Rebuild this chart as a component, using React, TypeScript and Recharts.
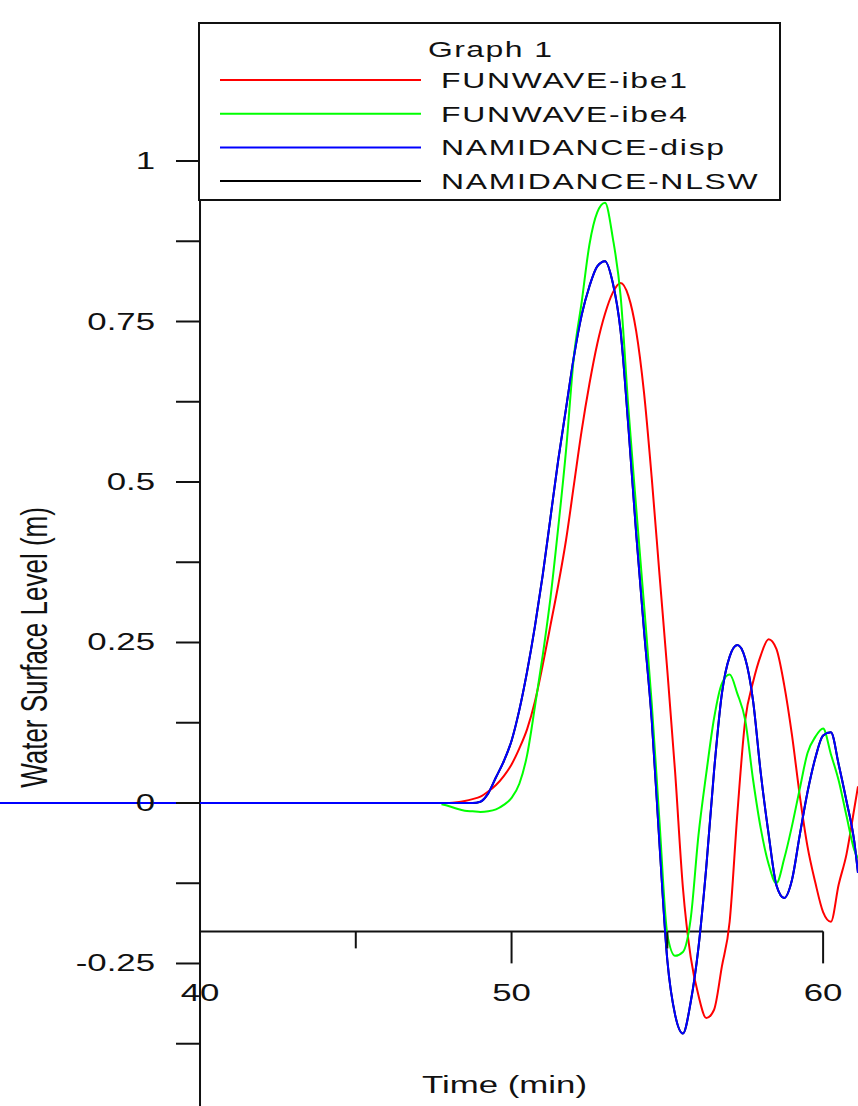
import {
  LineChart,
  Line,
  XAxis,
  YAxis,
  ReferenceLine,
  ReferenceDot,
  Legend,
} from "recharts";

const FONT = '"Liberation Sans", Arial, Helvetica, sans-serif';
const INK = "#111";
// the source figure is stretched sideways, text included
const STRETCH = 1.45;

const minutes = [
  33.58, 47.5, 47.75, 48, 48.25, 48.5, 48.75, 49, 49.25, 49.5, 49.75, 50,
  50.25, 50.5, 50.75, 51, 51.25, 51.5, 51.75, 52, 52.25, 52.5, 52.75, 53,
  53.25, 53.5, 53.75, 54, 54.25, 54.5, 54.75, 55, 55.25, 55.5, 55.75, 56,
  56.25, 56.5, 56.75, 57, 57.25, 57.5, 57.75, 58, 58.25, 58.5, 58.75, 59,
  59.25, 59.5, 59.75, 60, 60.25, 60.5, 60.75, 61, 61.12,
];

const ibe1Level = [
  null, null, 0, 0, 0.001, 0.003, 0.006, 0.01, 0.018, 0.028, 0.042, 0.06,
  0.085, 0.115, 0.158, 0.215, 0.277, 0.34, 0.41, 0.495, 0.58, 0.653, 0.715,
  0.762, 0.795, 0.81, 0.79, 0.735, 0.64, 0.506, 0.355, 0.206, 0.048, -0.132,
  -0.24, -0.3, -0.335, -0.322, -0.255, -0.185, -0.015, 0.129, 0.188, 0.23,
  0.255, 0.24, 0.184, 0.106, 0.012, -0.068, -0.124, -0.17, -0.185, -0.127,
  -0.08, -0.009, 0.026,
];

const ibe4Level = [
  null, null, -0.002, -0.005, -0.009, -0.012, -0.013, -0.014, -0.013, -0.01,
  -0.003, 0.008, 0.03, 0.075, 0.15, 0.23, 0.32, 0.43, 0.55, 0.695, 0.78, 0.87,
  0.92, 0.935, 0.88, 0.79, 0.615, 0.46, 0.31, 0.155, -0.03, -0.205, -0.238,
  -0.232, -0.18, -0.05, 0.046, 0.132, 0.186, 0.2, 0.17, 0.129, 0.037, -0.04,
  -0.095, -0.125, -0.087, -0.036, 0.022, 0.078, 0.103, 0.116, 0.076, 0.035,
  -0.02, -0.073, -0.086,
];

const dispLevel = [
  0, 0, 0, 0, 0, 0, 0, 0.002, 0.015, 0.04, 0.065, 0.097, 0.145, 0.205, 0.275,
  0.355, 0.445, 0.535, 0.615, 0.695, 0.76, 0.805, 0.836, 0.844, 0.81, 0.735,
  0.586, 0.42, 0.27, 0.129, -0.065, -0.245, -0.33, -0.359, -0.31, -0.225,
  -0.1, 0.05, 0.17, 0.228, 0.246, 0.225, 0.16, 0.046, -0.048, -0.128, -0.148,
  -0.12, -0.05, 0.017, 0.07, 0.105, 0.11, 0.06, 0.003, -0.06, -0.109,
];

// NLSW never shows in the figure, it lies right under the disp curve
const nlswLevel = dispLevel;

const seriesKeys = ["ibe1", "ibe4", "disp", "nlsw"];
const seriesNames = [
  "FUNWAVE-ibe1",
  "FUNWAVE-ibe4",
  "NAMIDANCE-disp",
  "NAMIDANCE-NLSW",
];
const seriesColors = ["#ff0000", "#00ff00", "#0000ff", "#000000"];

const yTicks = [-0.375, -0.25, -0.125, 0, 0.125, 0.25, 0.375, 0.5, 0.625, 0.75, 0.875, 1];
const yLabelled = [-0.25, 0, 0.25, 0.5, 0.75, 1];
const xMajor = [40, 50, 60];
const xMinor = [45, 55];

const X_DOMAIN: [number, number] = [33.58, 61.12];
const Y_DOMAIN: [number, number] = [-0.472, 1.2508];

const data = minutes.map((t, i) => ({
  t,
  ibe1: ibe1Level[i],
  ibe4: ibe4Level[i],
  disp: dispLevel[i],
  nlsw: nlswLevel[i],
}));

const Txt = ({
  x,
  y,
  size = 24,
  anchor = "middle",
  rotate = false,
  spacing = 0,
  children,
}: any) => (
  <text
    transform={`translate(${x},${y}) scale(${STRETCH},1)${rotate ? " rotate(-90)" : ""}`}
    fontSize={size}
    fontFamily={FONT}
    fill={INK}
    textAnchor={anchor}
    letterSpacing={spacing}
  >
    {children}
  </text>
);

const yTickShape = (v: number) => (p: any) => (
  <g>
    <line x1={p.cx - 24} y1={p.cy} x2={p.cx} y2={p.cy} stroke={INK} strokeWidth={2} />
    {yLabelled.includes(v) && (
      <Txt x={p.cx - 45} y={p.cy + 8} anchor="end">
        {String(v)}
      </Txt>
    )}
  </g>
);

const xTickShape = (v: number, major: boolean) => (p: any) => (
  <g>
    <line
      x1={p.cx}
      y1={p.cy}
      x2={p.cx}
      y2={p.cy + (major ? 32 : 17)}
      stroke={INK}
      strokeWidth={2}
    />
    {major && (
      <Txt x={p.cx} y={p.cy + 70}>
        {String(v)}
      </Txt>
    )}
  </g>
);

const LegendBox = () => (
  <svg width={583} height={179} style={{ display: "block" }}>
    <rect x={1} y={1} width={581} height={177} fill="#fff" stroke={INK} strokeWidth={2} />
    <Txt x={230} y={35} size={22} anchor="start" spacing={1}>
      Graph 1
    </Txt>
    {seriesNames.map((name, i) => {
      const y = 58 + i * 33.7;
      return (
        <g key={name}>
          <line x1={22} x2={223} y1={y} y2={y} stroke={seriesColors[i]} strokeWidth={2} />
          <Txt x={243} y={y + 8} size={22} anchor="start" spacing={1.2}>
            {name}
          </Txt>
        </g>
      );
    })}
  </svg>
);

// draw order: the hidden NLSW run first so disp stays on top
const drawOrder = [3, 0, 1, 2];

export default function App() {
  return (
    <div style={{ position: "absolute", left: 0, top: 0, background: "#fff" }}>
      <LineChart
        width={858}
        height={1106}
        data={data}
        margin={{ top: 0, right: 0, bottom: 0, left: 0 }}
      >
        <XAxis dataKey="t" type="number" domain={X_DOMAIN} allowDataOverflow hide />
        <YAxis type="number" domain={Y_DOMAIN} allowDataOverflow hide />

        <ReferenceLine
          segment={[
            { x: 40, y: -0.472 },
            { x: 40, y: 1.215 },
          ]}
          stroke={INK}
          strokeWidth={2}
          ifOverflow="visible"
        />
        <ReferenceLine
          segment={[
            { x: 40, y: -0.2 },
            { x: 60, y: -0.2 },
          ]}
          stroke={INK}
          strokeWidth={2}
          ifOverflow="visible"
        />
        {yTicks.map((v) => (
          <ReferenceDot key={`y${v}`} x={40} y={v} r={0} ifOverflow="visible" shape={yTickShape(v)} />
        ))}
        {xMajor.map((v) => (
          <ReferenceDot key={`xM${v}`} x={v} y={-0.2} r={0} ifOverflow="visible" shape={xTickShape(v, true)} />
        ))}
        {xMinor.map((v) => (
          <ReferenceDot key={`xm${v}`} x={v} y={-0.2} r={0} ifOverflow="visible" shape={xTickShape(v, false)} />
        ))}
        <ReferenceDot
          x={40}
          y={0.25}
          r={0}
          ifOverflow="visible"
          shape={(p: any) => (
            <Txt x={p.cx - 153} y={p.cy + 5} size={26} rotate>
              Water Surface Level (m)
            </Txt>
          )}
        />
        <ReferenceDot
          x={50}
          y={-0.2}
          r={0}
          ifOverflow="visible"
          shape={(p: any) => (
            <Txt x={p.cx - 7} y={p.cy + 162}>
              Time (min)
            </Txt>
          )}
        />

        {drawOrder.map((i) => (
          <Line
            key={seriesKeys[i]}
            dataKey={seriesKeys[i]}
            name={seriesNames[i]}
            stroke={seriesColors[i]}
            strokeWidth={2}
            type="monotone"
            dot={false}
            activeDot={false}
            isAnimationActive={false}
          />
        ))}

        <Legend
          layout="vertical"
          align="center"
          verticalAlign="middle"
          wrapperStyle={{ left: 198, top: 22, width: 583, height: 179 }}
          content={() => <LegendBox />}
        />
      </LineChart>
    </div>
  );
}
